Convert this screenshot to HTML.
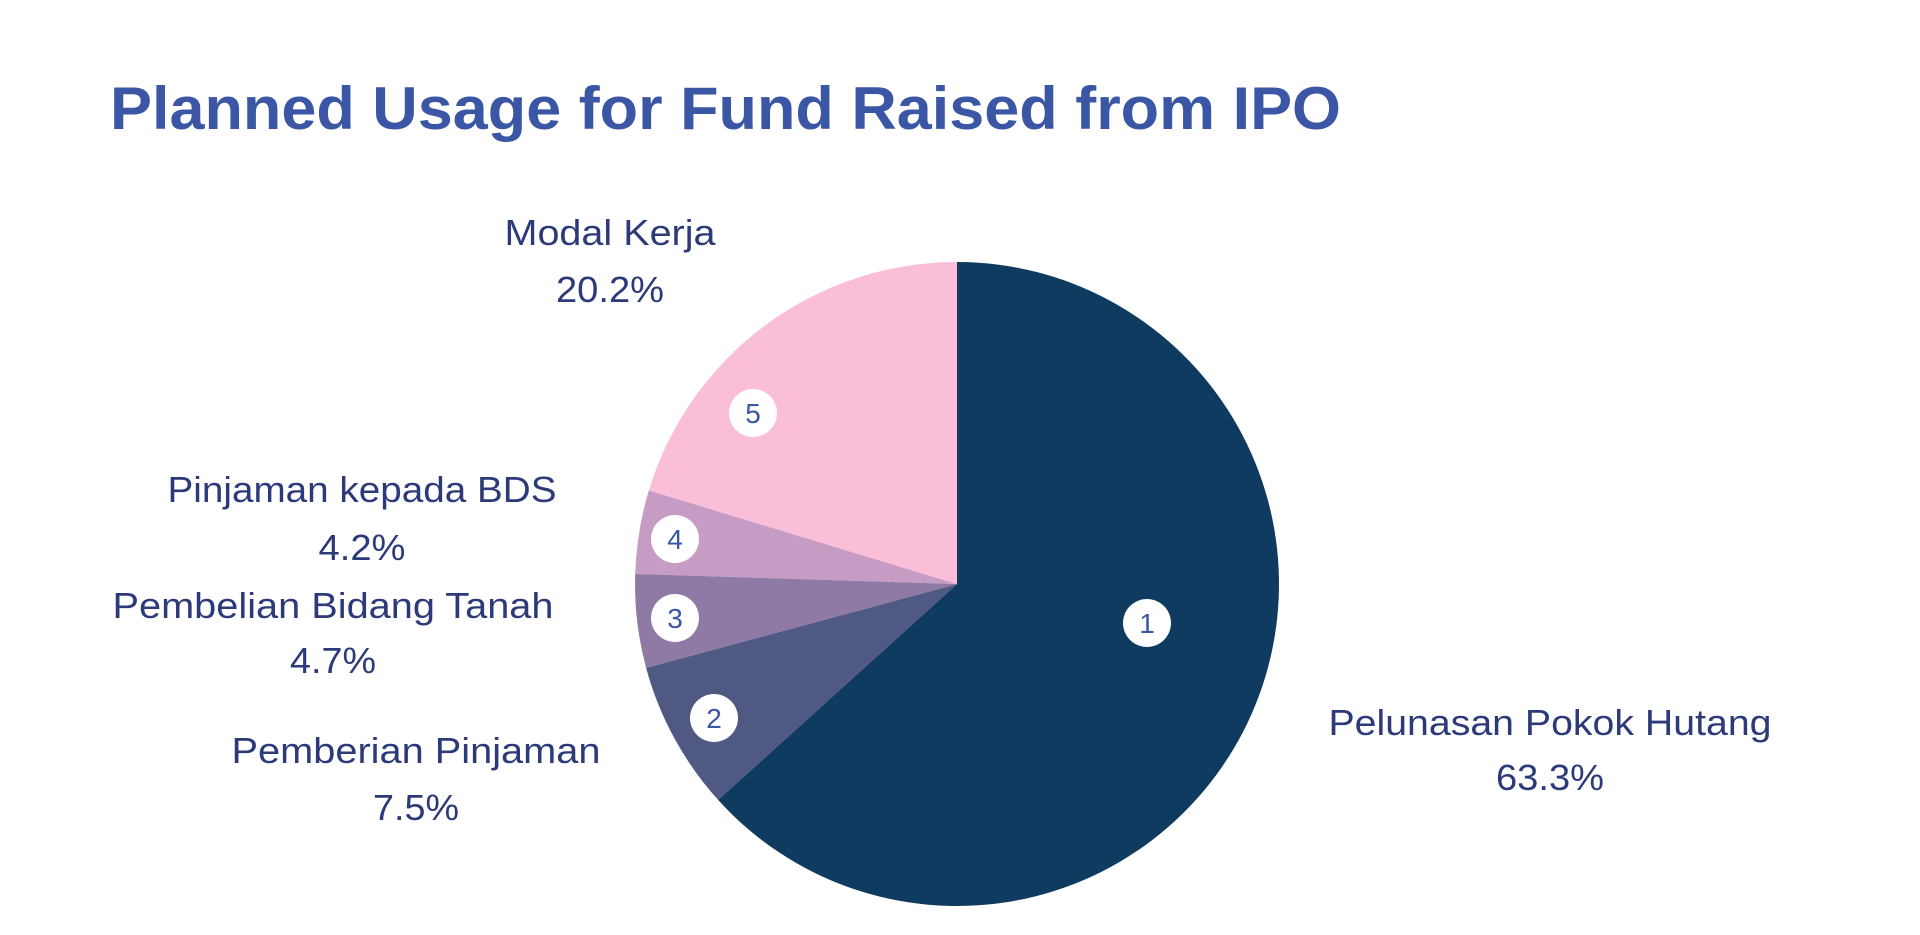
<!DOCTYPE html>
<html><head><meta charset="utf-8"><style>
html,body{margin:0;padding:0;background:#fff;width:1920px;height:935px;overflow:hidden}
svg text{font-family:"Liberation Sans",sans-serif}
</style></head><body>
<svg width="1920" height="935" viewBox="0 0 1920 935" xmlns="http://www.w3.org/2000/svg">
<text x="110" y="129" font-size="60" font-weight="bold" fill="#3a56a5" textLength="1231" lengthAdjust="spacingAndGlyphs">Planned Usage for Fund Raised from IPO</text>
<g>
<path d="M957,584 L957,262 A322,322 0 1 1 718.1,799.9 Z" fill="#0e3b5f"/>
<path d="M957,584 L718.1,799.9 A322,322 0 0 1 646.1,667.9 Z" fill="#4f5984"/>
<path d="M957,584 L646.1,667.9 A322,322 0 0 1 635.2,573.9 Z" fill="#8f7aa6"/>
<path d="M957,584 L635.2,573.9 A322,322 0 0 1 648.9,490.4 Z" fill="#c69bc4"/>
<path d="M957,584 L648.9,490.4 A322,322 0 0 1 957,262 Z" fill="#fbbed8"/>
</g>
<g fill="#fff">
<circle cx="1147" cy="623" r="24"/><circle cx="714" cy="718" r="24"/><circle cx="675" cy="618" r="24"/><circle cx="675" cy="539" r="24"/><circle cx="753" cy="413" r="24"/>
</g>
<g fill="#3a56a5" font-size="28" text-anchor="middle">
<text x="1147" y="633">1</text><text x="714" y="728">2</text><text x="675" y="628">3</text><text x="675" y="549">4</text><text x="753" y="423">5</text>
</g>
<g fill="#2d3a7a" font-size="36" text-anchor="middle">
<text x="610" y="245" textLength="211" lengthAdjust="spacingAndGlyphs">Modal Kerja</text>
<text x="610" y="302" textLength="108" lengthAdjust="spacingAndGlyphs">20.2%</text>
<text x="362" y="502" textLength="389" lengthAdjust="spacingAndGlyphs">Pinjaman kepada BDS</text>
<text x="362" y="560" textLength="87" lengthAdjust="spacingAndGlyphs">4.2%</text>
<text x="333" y="618" textLength="441" lengthAdjust="spacingAndGlyphs">Pembelian Bidang Tanah</text>
<text x="333" y="673" textLength="86" lengthAdjust="spacingAndGlyphs">4.7%</text>
<text x="416" y="763" textLength="369" lengthAdjust="spacingAndGlyphs">Pemberian Pinjaman</text>
<text x="416" y="820" textLength="86" lengthAdjust="spacingAndGlyphs">7.5%</text>
<text x="1550" y="735" textLength="443" lengthAdjust="spacingAndGlyphs">Pelunasan Pokok Hutang</text>
<text x="1550" y="790" textLength="108" lengthAdjust="spacingAndGlyphs">63.3%</text>
</g>
</svg>
</body></html>
